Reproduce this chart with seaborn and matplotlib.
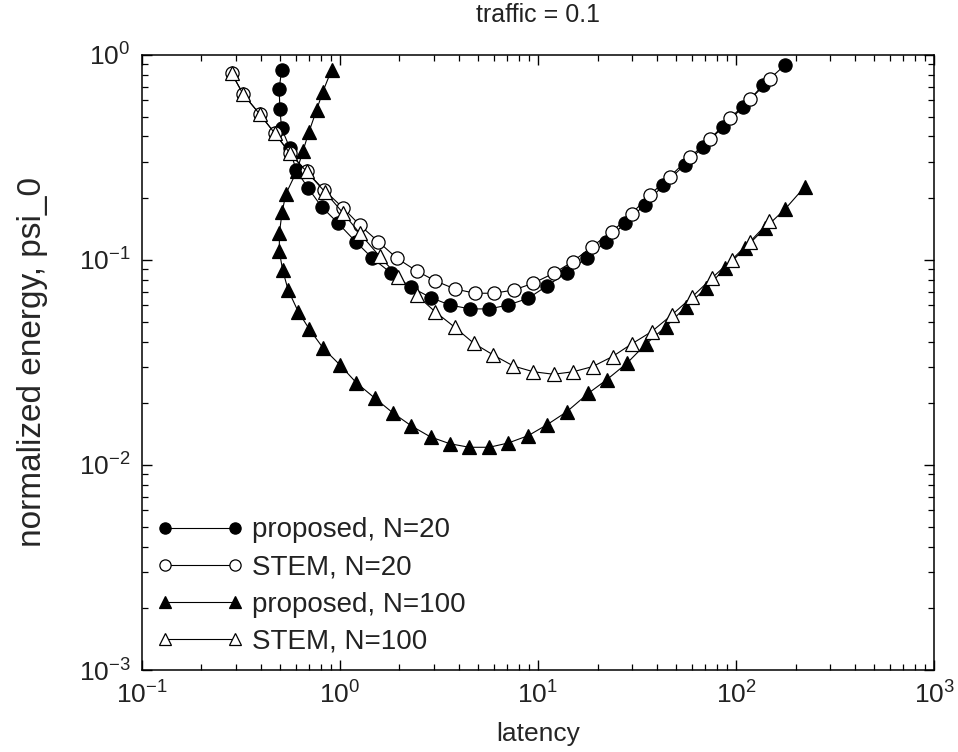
import matplotlib
matplotlib.use("Agg")
import matplotlib.pyplot as plt
import seaborn as sns
import pandas as pd
from matplotlib.ticker import LogLocator, NullFormatter

# proposed, N=20
prop20_x = [0.508, 0.494, 0.498, 0.508, 0.559, 0.600, 0.692, 0.808, 0.980, 1.20, 1.46, 1.82,
            2.30, 2.89, 3.59, 4.54, 5.68, 7.08, 8.93, 11.1, 14.0, 17.6, 22.1, 27.5, 34.7, 43.0,
            55.1, 68.4, 86.3, 109, 137, 177]
prop20_y = [0.845, 0.680, 0.543, 0.439, 0.351, 0.275, 0.224, 0.182, 0.151, 0.123, 0.102, 0.0861,
            0.0734, 0.0654, 0.0603, 0.0577, 0.0577, 0.0603, 0.0650, 0.0747, 0.0867, 0.102, 0.123,
            0.151, 0.186, 0.232, 0.291, 0.357, 0.447, 0.560, 0.714, 0.894]

# STEM, N=20
stem20_x = [0.284, 0.325, 0.394, 0.469, 0.559, 0.679, 0.830, 1.04, 1.26, 1.56, 1.94, 2.44, 3.04,
            3.81, 4.81, 6.00, 7.57, 9.47, 12.0, 15.0, 18.7, 23.6, 29.7, 36.8, 46.4, 58.6, 73.9,
            93.3, 118, 149]
stem20_y = [0.814, 0.643, 0.514, 0.415, 0.332, 0.270, 0.220, 0.179, 0.148, 0.123, 0.102, 0.0884,
            0.0790, 0.0722, 0.0688, 0.0688, 0.0714, 0.0770, 0.0861, 0.0981, 0.116, 0.137, 0.168,
            0.208, 0.255, 0.317, 0.388, 0.491, 0.608, 0.761]

# proposed, N=100
prop100_x = [0.908, 0.821, 0.763, 0.697, 0.650, 0.605, 0.534, 0.511, 0.495, 0.495, 0.514, 0.548,
             0.616, 0.700, 0.824, 1.00, 1.21, 1.50, 1.86, 2.30, 2.87, 3.59, 4.50, 5.68, 7.08, 8.93,
             11.1, 14.0, 18.0, 22.2, 28.1, 35.1, 44.3, 55.9, 70.6, 88.0, 111, 140, 177, 223]
prop100_y = [0.845, 0.662, 0.539, 0.419, 0.338, 0.270, 0.210, 0.171, 0.135, 0.110, 0.0894, 0.0714,
             0.0560, 0.0461, 0.0371, 0.0308, 0.0252, 0.0212, 0.0179, 0.0155, 0.0137, 0.0127,
             0.0122, 0.0122, 0.0128, 0.0139, 0.0157, 0.0182, 0.0224, 0.0260, 0.0313, 0.0389,
             0.0473, 0.0592, 0.0728, 0.0911, 0.114, 0.143, 0.177, 0.228]

# STEM, N=100
stem100_x = [0.284, 0.325, 0.394, 0.469, 0.559, 0.679, 0.840, 1.04, 1.26, 1.59, 1.97, 2.44, 3.02,
             3.81, 4.75, 5.95, 7.51, 9.47, 12.0, 15.1, 18.9, 23.8, 29.7, 37.5, 47.4, 59.8, 75.4,
             95.1, 118, 147]
stem100_y = [0.814, 0.643, 0.514, 0.415, 0.332, 0.270, 0.215, 0.169, 0.135, 0.104, 0.0829, 0.0675,
             0.0560, 0.0469, 0.0392, 0.0344, 0.0304, 0.0285, 0.0277, 0.0285, 0.0302, 0.0338,
             0.0389, 0.0447, 0.0539, 0.0658, 0.0814, 0.100, 0.123, 0.154]

series = [
    ("proposed, N=20", prop20_x, prop20_y, "o", "black"),
    ("STEM, N=20", stem20_x, stem20_y, "o", "white"),
    ("proposed, N=100", prop100_x, prop100_y, "^", "black"),
    ("STEM, N=100", stem100_x, stem100_y, "^", "white"),
]

sns.set_style("ticks")
plt.rcParams['font.family'] = ['Liberation Sans', 'DejaVu Sans']
plt.rcParams['mathtext.fontset'] = 'custom'
plt.rcParams['mathtext.rm'] = 'Liberation Sans'
plt.rcParams['mathtext.it'] = 'Liberation Sans:italic'
plt.rcParams['mathtext.bf'] = 'Liberation Sans:bold'
plt.rcParams['text.color'] = '#222222'

fig, ax = plt.subplots(figsize=(9.58, 7.52), dpi=100)
fig.subplots_adjust(left=0.148, right=0.975, top=0.927, bottom=0.109)

for name, xs, ys, mk, fc in series:
    df = pd.DataFrame({"latency": xs, "energy": ys})
    sns.lineplot(data=df, x="latency", y="energy", ax=ax, sort=False, estimator=None,
                 color="black", linewidth=0.8, marker=mk, markersize=9.5,
                 markerfacecolor=fc, markeredgecolor="black", markeredgewidth=0.9,
                 label=name)

ax.set_xscale("log")
ax.set_yscale("log")
ax.set_xlim(0.1, 1000)
ax.set_ylim(0.001, 1)
ax.xaxis.set_major_locator(LogLocator(base=10, numticks=10))
ax.yaxis.set_major_locator(LogLocator(base=10, numticks=10))
ax.xaxis.set_minor_locator(LogLocator(base=10, subs=range(2, 10), numticks=20))
ax.yaxis.set_minor_locator(LogLocator(base=10, subs=range(2, 10), numticks=20))
ax.xaxis.set_minor_formatter(NullFormatter())
ax.yaxis.set_minor_formatter(NullFormatter())

ax.tick_params(which="both", direction="in", top=True, right=True, colors="black",
               labelsize=19, labelcolor="#222222")
ax.tick_params(which="major", length=7, width=1.0, pad=8)
ax.tick_params(which="minor", length=4.5, width=0.9)
for sp in ax.spines.values():
    sp.set_linewidth(1.1)
    sp.set_color("black")

ax.set_xlabel("latency", fontsize=19, labelpad=10)
ax.set_ylabel("normalized energy, psi_0", fontsize=24, labelpad=22)
ax.set_title("traffic = 0.1", fontsize=18, pad=24)

ax.legend(loc="lower left", frameon=False, fontsize=20, numpoints=2, handlelength=3.1,
          handletextpad=0.32, labelspacing=0.4, markerscale=0.85,
          borderaxespad=0.15, bbox_to_anchor=(0.0, 0.0))

fig.savefig("out.png", dpi=100)
